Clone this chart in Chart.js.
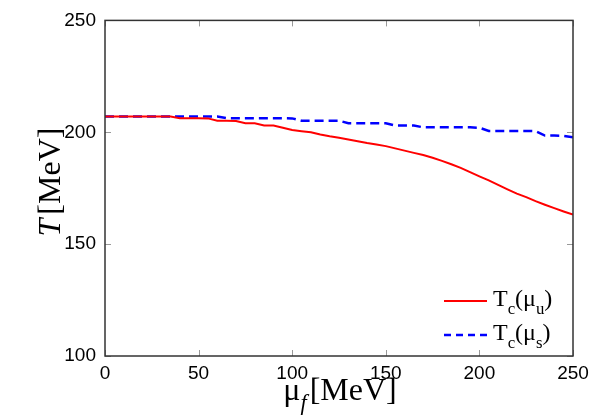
<!DOCTYPE html>
<html>
<head>
<meta charset="utf-8">
<script src="https://cdn.jsdelivr.net/npm/chart.js@4/dist/chart.umd.min.js"></script>
<style>
  html, body { margin: 0; padding: 0; background: #fff; }
  #wrap { width: 600px; height: 419px; }
</style>
</head>
<body>
<div id="wrap"><canvas id="tcChart"></canvas></div>
<script>
// mu_f [MeV]
const muF = [0, 5, 10, 15, 20, 25, 30, 35, 40, 45, 50, 55, 60, 65, 70, 75, 80, 85, 90, 95,
             100, 105, 110, 115, 120, 125, 130, 135, 140, 145, 150, 155, 160, 165, 170, 175,
             180, 185, 190, 195, 200, 205, 210, 215, 220, 225, 230, 235, 240, 245, 250];
// T_c(mu_u)
const tcU = [207, 207, 207, 207, 207, 207, 207, 207, 206.3, 206.3, 206.3, 206.2, 205.2, 205.1, 205, 204, 204, 203, 203, 202,
             201, 200.5, 200, 199, 198.2, 197.5, 196.8, 196, 195.2, 194.5, 193.8, 192.8, 191.8, 190.8, 189.8, 188.6,
             187.2, 185.7, 184.1, 182.2, 180.3, 178.5, 176.5, 174.5, 172.6, 171, 169.2, 167.6, 166.1, 164.6, 163.2];
// T_c(mu_s)
const tcS = [207, 207, 207, 207, 207, 207, 207, 207, 207, 207, 207, 207, 207, 206.3, 206.3, 206.3, 206.3, 206.3, 206.3, 206.3,
             206.2, 205.2, 205.2, 205.2, 205.2, 205.2, 204, 204, 204, 204, 204, 203, 203, 203, 202.2, 202.2,
             202.2, 202.2, 202.2, 202.2, 202, 200.6, 200.6, 200.6, 200.6, 200.6, 200.5, 198.5, 198.5, 198.4, 197.8];
const xTicks = [0, 50, 100, 150, 200, 250];
const yTicks = [100, 150, 200, 250];

const serif = '"Liberation Serif", "DejaVu Serif", serif';
const sans = '"Liberation Sans", Arial, sans-serif';

// text pieces with sub/italic parts, drawn left to right
function setFont(ctx, p, size) {
    const s = p.sub ? size * 0.7 : size;
    ctx.font = (p.it ? 'italic ' : '') + s + 'px ' + serif;
}
function drawRich(ctx, parts, x, y, size) {
    let cx = x;
    parts.forEach(p => {
        setFont(ctx, p, size);
        ctx.fillText(p.t, cx, y + (p.sub ? size * 0.32 : 0));
        cx += ctx.measureText(p.t).width + (p.gap || 0);
    });
    return cx;
}
function richWidth(ctx, parts, size) {
    let w = 0;
    parts.forEach(p => {
        setFont(ctx, p, size);
        w += ctx.measureText(p.t).width + (p.gap || 0);
    });
    return w;
}

const framePlugin = {
    id: 'frame',
    afterDatasetsDraw(chart) {
        const ctx = chart.ctx;
        const a = chart.chartArea;
        const xs = chart.scales.x, ys = chart.scales.y;
        ctx.save();
        // inward ticks
        ctx.strokeStyle = '#999';
        ctx.lineWidth = 1;
        ctx.beginPath();
        xTicks.forEach(v => {
            const px = Math.round(xs.getPixelForValue(v)) + 0.5;
            ctx.moveTo(px, a.bottom); ctx.lineTo(px, a.bottom - 6);
            ctx.moveTo(px, a.top); ctx.lineTo(px, a.top + 6);
        });
        yTicks.forEach(v => {
            const py = Math.round(ys.getPixelForValue(v)) + 0.5;
            ctx.moveTo(a.left, py); ctx.lineTo(a.left + 6, py);
            ctx.moveTo(a.right, py); ctx.lineTo(a.right - 6, py);
        });
        ctx.stroke();
        // box
        ctx.strokeStyle = '#333';
        ctx.lineWidth = 1.5;
        ctx.strokeRect(a.left, a.top, a.right - a.left, a.bottom - a.top);

        ctx.fillStyle = '#000';
        ctx.textBaseline = 'alphabetic';
        ctx.textAlign = 'left';
        // x title
        const xt = [{t: '\u03bc'}, {t: 'f', it: true, sub: true, gap: 3}, {t: '[MeV]'}];
        const xw = richWidth(ctx, xt, 32);
        drawRich(ctx, xt, 340 - xw / 2, 400, 32);
        // y title
        ctx.save();
        ctx.translate(60, 182);
        ctx.rotate(-Math.PI / 2);
        const yt = [{t: 'T', it: true, gap: 4}, {t: '[MeV]'}];
        const yw = richWidth(ctx, yt, 32);
        drawRich(ctx, yt, -yw / 2, 0, 32);
        ctx.restore();

        // legend
        const items = [
            {ds: chart.data.datasets[0], y: 301, sub: 'u', dash: []},
            {ds: chart.data.datasets[1], y: 335, sub: 's', dash: [7, 5]}
        ];
        items.forEach(it => {
            ctx.strokeStyle = it.ds.borderColor;
            ctx.lineWidth = it.ds.borderWidth;
            ctx.setLineDash(it.dash);
            ctx.beginPath();
            ctx.moveTo(444, it.y); ctx.lineTo(487, it.y);
            ctx.stroke();
            ctx.setLineDash([]);
            drawRich(ctx, [{t: 'T'}, {t: 'c', sub: true}, {t: '(\u03bc'}, {t: it.sub, sub: true}, {t: ')'}],
                     493, it.y + 5, 24);
        });
        ctx.restore();
    }
};

const chart = new Chart(document.getElementById('tcChart').getContext('2d'), {
    type: 'line',
    data: {
        labels: muF,
        datasets: [
            {
                label: 'Tc(mu_u)',
                data: muF.map((m, i) => ({x: m, y: tcU[i]})),
                borderColor: '#ff0000',
                borderWidth: 2,
                pointRadius: 0,
                tension: 0
            },
            {
                label: 'Tc(mu_s)',
                data: muF.map((m, i) => ({x: m, y: tcS[i]})),
                borderColor: '#0000ff',
                borderWidth: 2.5,
                borderDash: [9, 5],
                pointRadius: 0,
                tension: 0
            }
        ]
    },
    options: {
        responsive: true,
        maintainAspectRatio: false,
        animation: false,
        layout: { padding: { top: 17, right: 27, left: 0, bottom: 0 } },
        scales: {
            x: {
                type: 'linear',
                min: 0,
                max: 250,
                afterBuildTicks: s => { s.ticks = xTicks.map(v => ({value: v})); },
                afterFit: s => { s.height = 63; },
                grid: { display: false, drawTicks: false },
                border: { display: false },
                ticks: { color: '#000', font: { family: sans, size: 19 }, padding: 6, maxRotation: 0, autoSkip: false }
            },
            y: {
                min: 100,
                max: 250,
                afterBuildTicks: s => { s.ticks = yTicks.map(v => ({value: v})); },
                afterFit: s => { s.width = 105; },
                grid: { display: false, drawTicks: false },
                border: { display: false },
                ticks: { color: '#000', font: { family: sans, size: 19 }, padding: 9 }
            }
        },
        plugins: {
            legend: { display: false },
            tooltip: { enabled: false }
        }
    },
    plugins: [framePlugin]
});
</script>
</body>
</html>
